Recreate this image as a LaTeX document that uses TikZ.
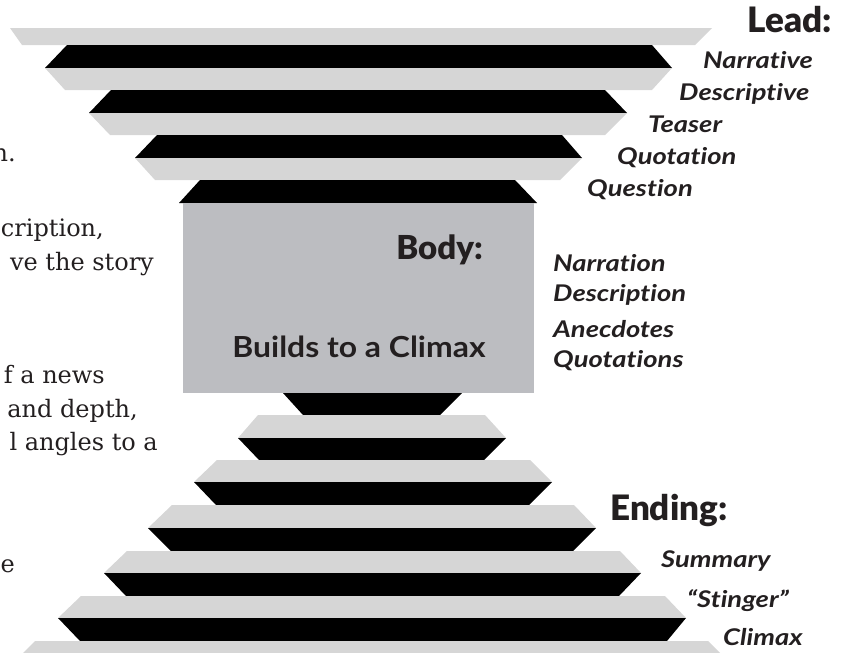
\documentclass[tikz,border=0pt]{standalone}
\usepackage{fontspec}
\setmainfont{Lato}
\newfontfamily\headfont{Lato Black}
\newfontfamily\widefont{Lato}[FakeStretch=1.1]
\newfontfamily\itemfont{Lato}[FakeStretch=1.19, Ligatures=NoCommon]
\newfontfamily\pagefont{DejaVu Serif}
\usepackage{tikz}
\usetikzlibrary{calc}

\definecolor{lightband}{RGB}{214,214,214}
\definecolor{boxgrey}{RGB}{188,189,193}
\definecolor{inkdark}{RGB}{35,31,32}

\begin{document}
\begin{tikzpicture}[x=1pt, y=-1pt,
    dark/.style={fill=black},
    light/.style={fill=lightband},
    heading/.style={inner sep=0pt, text=inkdark, font=\headfont\fontsize{35}{35}\selectfont},
    item/.style={inner sep=0pt, anchor=base west, text=inkdark, font=\itemfont\bfseries\itshape\fontsize{23}{23}\selectfont},
    pagetext/.style={inner sep=0pt, anchor=base east, text=inkdark, font=\pagefont\fontsize{24}{24}\selectfont}]
        \useasboundingbox (0,0) rectangle (841,653);
        \clip (0,0) rectangle (841,653);

        % lead: upper stack
        \fill[light] (10,28) -- (712,28) -- (695,45) -- (22,45) -- cycle;
        \fill[dark] (67,45) -- (652,45) -- (672,68) -- (45,68) -- cycle;
        \fill[light] (45,68) -- (672,68) -- (652,90) -- (65,90) -- cycle;
        \fill[dark] (111,90) -- (605,90) -- (627,113) -- (89,113) -- cycle;
        \fill[light] (89,113) -- (627,113) -- (605,135) -- (110,135) -- cycle;
        \fill[dark] (157,135) -- (562,135) -- (582,158) -- (135,158) -- cycle;
        \fill[light] (135,158) -- (582,158) -- (560,180) -- (155,180) -- cycle;
        \fill[dark] (200,180) -- (515,180) -- (537,203) -- (179,203) -- cycle;

        % body
        \fill[boxgrey] (183,203) rectangle (534,393);

        % ending: lower stack
        \fill[dark] (283,393) -- (462,393) -- (440,415) -- (303,415) -- cycle;
        \fill[light] (258,415) -- (485,415) -- (506,438) -- (238,438) -- cycle;
        \fill[dark] (238,438) -- (506,438) -- (483,461) -- (260,461) -- cycle;
        \fill[light] (217,460) -- (530,460) -- (552,482) -- (194,482) -- cycle;
        \fill[dark] (194,482) -- (552,482) -- (529,505) -- (216,505) -- cycle;
        \fill[light] (172,505) -- (574,505) -- (596,528) -- (148,528) -- cycle;
        \fill[dark] (148,528) -- (596,528) -- (573,551) -- (171,551) -- cycle;
        \fill[light] (127,551) -- (620,551) -- (641,573) -- (104,573) -- cycle;
        \fill[dark] (104,573) -- (641,573) -- (619,596) -- (126,596) -- cycle;
        \fill[light] (81,596) -- (665,596) -- (686,618) -- (58,618) -- cycle;
        \fill[dark] (58,618) -- (686,618) -- (667,641) -- (80,641) -- cycle;
        \fill[light] (35,641) -- (708,641) -- (731,664) -- (12,664) -- cycle;

        % labels
        \node[heading, anchor=base east] (lead) at (832,32) {Lead:};
        \node[item] (narrative) at (703,68) {Narrative};
        \node[item] (descriptive) at (679,100) {Descriptive};
        \node[item] (teaser) at (648,132) {Teaser};
        \node[item] (quotation) at (617,164) {Quotation};
        \node[item] (question) at (587,196) {Question};

        \node[heading, anchor=base east, font=\headfont\fontsize{33}{33}\selectfont] (body) at (483,259) {Body:};
        \node[inner sep=0pt, anchor=base, text=inkdark, font=\widefont\bfseries\fontsize{29}{29}\selectfont] (climb) at (359,357) {Builds to a Climax};
        \node[item] (narration) at (553,271) {Narration};
        \node[item] (description) at (553,301) {Description};
        \node[item] (anecdotes) at (553,337) {Anecdotes};
        \node[item] (quotations) at (553,367) {Quotations};

        \node[heading, anchor=base west] (ending) at (610,520) {Ending:};
        \node[item] (summary) at (661,567) {Summary};
        \node[item] (stinger) at (687,607) {“Stinger”};
        \node[item] (climax) at (723,645) {Climax};

        % page text cut off at the left
        \node[pagetext] (line1) at (16,161) {n.};
        \node[pagetext] (line2) at (104,236) {cription,};
        \node[pagetext] (line3) at (154,270) {ve the story};
        \node[pagetext] (line4) at (105,383) {f a news};
        \node[pagetext] (line5) at (138,417) {and depth,};
        \node[pagetext] (line6) at (158,450) {l angles to a};
        \node[pagetext] (line7) at (15,572) {e};
\end{tikzpicture}
\end{document}
